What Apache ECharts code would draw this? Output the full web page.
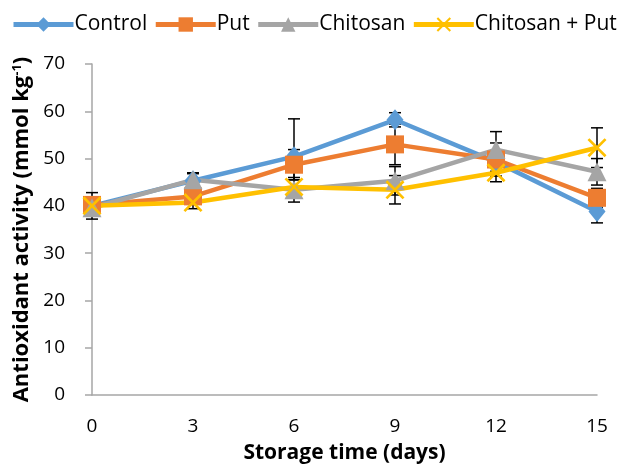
<!DOCTYPE html>
<html>
<head>
<meta charset="utf-8">
<script src="https://cdn.jsdelivr.net/npm/echarts@6/dist/echarts.min.js"></script>
<style>
  html, body { margin: 0; padding: 0; background: #fff; }
  #chart { width: 630px; height: 469px; }
</style>
</head>
<body>
<div id="chart"></div>
<script>
const days = [0, 3, 6, 9, 12, 15]
const control = [40.0, 45.3, 50.4, 58.2, 49.3, 38.8]
const put = [40.2, 42.0, 48.7, 53.0, 49.8, 41.7]
const chitosan = [39.6, 45.5, 43.4, 45.3, 51.9, 47.2]
const chitPut = [40.0, 40.7, 44.0, 43.4, 47.0, 52.3]
// standard errors
const controlErr = [2.8, 1.5, 8.0, 1.5, 2.0, 2.4]
const putErr = [1.5, 1.5, 3.2, 4.3, 3.5, 2.0]
const chitosanErr = [1.5, 1.5, 2.6, 3.0, 3.8, 2.8]
const chitPutErr = [1.5, 1.3, 1.5, 3.0, 1.9, 4.2]

const crossPath = 'path://M0,1 L1,0 L10,9 L9,10 Z M9,0 L10,1 L1,10 L0,9 Z'
const fontFam = '"Open Sans", "Noto Sans", sans-serif'

function pairs(vals) {
  return days.map((d, i) => [d, vals[i]])
}

function errSeries(vals, errs) {
  return {
    type: 'custom',
    silent: true,
    z: 1,
    data: days.map((d, i) => [d, vals[i], errs[i]]),
    renderItem(params, api) {
      const top = api.coord([api.value(0), api.value(1) + api.value(2)])
      const bot = api.coord([api.value(0), api.value(1) - api.value(2)])
      const w = 6
      const style = { stroke: '#000', lineWidth: 1.5 }
      return {
        type: 'group',
        children: [
          { type: 'line', shape: { x1: top[0], y1: top[1], x2: bot[0], y2: bot[1] }, style },
          { type: 'line', shape: { x1: top[0] - w, y1: top[1], x2: top[0] + w, y2: top[1] }, style },
          { type: 'line', shape: { x1: bot[0] - w, y1: bot[1], x2: bot[0] + w, y2: bot[1] }, style }
        ]
      }
    }
  }
}

function lineSeries(name, vals, color, symbol, size) {
  return {
    name: name,
    type: 'line',
    z: 2,
    data: pairs(vals),
    symbol: symbol,
    symbolSize: size,
    showAllSymbol: true,
    lineStyle: { color: color, width: 4.5 },
    itemStyle: { color: color },
    animation: false
  }
}

const chart = echarts.init(document.getElementById('chart'))
chart.setOption({
  animation: false,
  grid: { left: 92, right: 33, top: 64, bottom: 73 },
  legend: {
    top: 9,
    left: 6,
    itemWidth: 60,
    itemHeight: 18,
    itemGap: 6,
    lineStyle: { width: 5 },
    textStyle: { fontSize: 21, color: '#000', fontFamily: fontFam, padding: [0, 0, 0, -4] },
    data: ['Control', 'Put', 'Chitosan', 'Chitosan + Put']
  },
  xAxis: {
    type: 'value',
    min: 0,
    max: 15,
    interval: 3,
    name: 'Storage time (days)',
    nameLocation: 'middle',
    nameGap: 48,
    nameTextStyle: { fontSize: 21, fontWeight: 'bold', color: '#000', fontFamily: fontFam },
    axisLine: { lineStyle: { color: '#A6A6A6', width: 1.5 } },
    axisTick: { show: false },
    splitLine: { show: false },
    axisLabel: { fontSize: 19, color: '#000', margin: 22, fontFamily: fontFam }
  },
  yAxis: {
    type: 'value',
    min: 0,
    max: 70,
    interval: 10,
    name: '{b|Antioxidant activity (mmol kg}{s|-1}{b|)}',
    nameLocation: 'middle',
    nameGap: 57,
    nameTextStyle: {
      fontFamily: fontFam,
      rich: {
        b: { fontSize: 22, fontWeight: 'bold', color: '#000', fontFamily: fontFam },
        s: { fontSize: 13, fontWeight: 'bold', color: '#000', fontFamily: fontFam, verticalAlign: 'top', padding: [0, 0, 9, 0] }
      }
    },
    axisLine: { show: true, lineStyle: { color: '#A6A6A6', width: 1.5 } },
    axisTick: { show: true, length: 7, lineStyle: { color: '#A6A6A6', width: 1.5 } },
    splitLine: { show: false },
    axisLabel: { fontSize: 19, color: '#000', margin: 27, fontFamily: fontFam }
  },
  series: [
    errSeries(control, controlErr),
    errSeries(put, putErr),
    errSeries(chitosan, chitosanErr),
    errSeries(chitPut, chitPutErr),
    lineSeries('Control', control, '#5B9BD5', 'diamond', [17, 21]),
    lineSeries('Put', put, '#ED7D31', 'rect', 18),
    lineSeries('Chitosan', chitosan, '#A5A5A5', 'triangle', 19),
    lineSeries('Chitosan + Put', chitPut, '#FFC000', crossPath, 19)
  ]
})
</script>
</body>
</html>
